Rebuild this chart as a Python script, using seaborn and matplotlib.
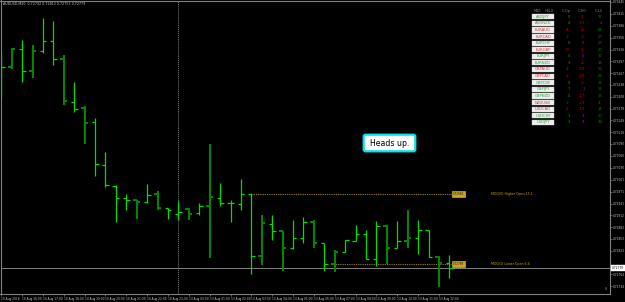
import matplotlib
matplotlib.use("Agg")
import matplotlib.pyplot as plt
import matplotlib.transforms as mtransforms
from matplotlib.patches import FancyBboxPatch, Rectangle
import numpy as np
import pandas as pd
import seaborn as sns

# ---------------- data ----------------
title_text = "AUDUSD,M30  0.72792 0.72813 0.72755 0.72779"

opens_pts = [73300, 73283, 73327, 73273, 73323, 73347, 73302, 73194, 73179, 73144,
             73038, 72986, 72955, 72949, 72944, 72964, 72929, 72914, 72927, 72917,
             72934, 72955, 72943, 72940, 72964, 72809, 72891, 72872, 72829, 72854,
             72894, 72842, 72789, 72819, 72848, 72865, 72802, 72884, 72829, 72847,
             72854, 72874, 72808, 72792]
highs_pts = [73320, 73329, 73350, 73338, 73405, 73398, 73312, 73245, 73185, 73155,
             73070, 72987, 72964, 72949, 72989, 72973, 72929, 72947, 72929, 72943,
             73089, 72993, 72950, 73002, 72967, 72913, 72913, 72872, 72900, 72908,
             72901, 72842, 72824, 72850, 72887, 72875, 72898, 72887, 72898, 72925,
             72901, 72874, 72810, 72813]
lows_pts = [73202, 73277, 73245, 73255, 73318, 73288, 73188, 73170, 73091, 73011,
            72982, 72896, 72926, 72903, 72942, 72924, 72902, 72900, 72900, 72912,
            72804, 72936, 72896, 72926, 72766, 72788, 72851, 72773, 72828, 72843,
            72830, 72773, 72771, 72819, 72848, 72802, 72786, 72790, 72829, 72830,
            72814, 72808, 72733, 72755]
closes_pts = [73283, 73327, 73272, 73323, 73347, 73303, 73197, 73178, 73143, 73039,
              72988, 72955, 72949, 72944, 72962, 72929, 72924, 72919, 72914, 72934,
              72957, 72943, 72942, 72964, 72809, 72892, 72872, 72831, 72854, 72894,
              72842, 72789, 72819, 72850, 72865, 72802, 72884, 72829, 72847, 72854,
              72874, 72808, 72792, 72779]
# B = bright bar, D = dark bar
bar_kind = "BDBDBBDBDB" + "BBBDBDBBDB" + "DBBBBDBDBB" + "DBDBBBBDBD" + "BBDB"

time_labels = ["10 Aug 2018", "10 Aug 16:00", "10 Aug 17:00", "10 Aug 18:00",
               "10 Aug 19:00", "10 Aug 20:00", "10 Aug 21:00", "10 Aug 22:00",
               "10 Aug 23:00", "13 Aug 00:00", "13 Aug 01:00", "13 Aug 02:00",
               "13 Aug 03:00", "13 Aug 04:00", "13 Aug 05:00", "13 Aug 06:00",
               "13 Aug 07:00", "13 Aug 08:00", "13 Aug 09:00", "13 Aug 10:00",
               "13 Aug 11:00", "13 Aug 12:00"]
time_label_bars = list(range(0, 44, 2))

price_ticks = [0.73445, 0.73415, 0.73386, 0.73356, 0.73326, 0.73297, 0.73267,
               0.73238, 0.73208, 0.73178, 0.73149, 0.73119, 0.73090, 0.73060,
               0.73030, 0.73001, 0.72971, 0.72941, 0.72912, 0.72882, 0.72853,
               0.72823, 0.72764, 0.72734]

separator_bar = 17
bid_price = 0.72779
higher_open = 0.72964
higher_open_start = 24
lower_open = 0.72789
lower_open_start = 31.6
level_end = 43.35
higher_text = "MOQ(0) Higher Open 15.1"
lower_text = "MOQ(1) Lower Open 6.6"

pairs = ["AUDJPY", "AUDNZD", "EURAUD", "EURCAD", "EURCHF", "EURGBP", "EURJPY",
         "EURNZD", "GBPAUD", "GBPCAD", "GBPCHF", "GBPJPY", "GBPNZD", "NZDUSD",
         "USDCAD", "USDCHF", "USDJPY"]
c_op = [0, 4, -4, -2, 0, -0.3, 0, 3, -4, -2, 0, 7, 0, -2, -5, 3, 3]
c_h0 = [-1, -23, -4, -2, 0, -6, 0, -4, -23, -27, -5, 1, -17, -23, -13, 3, 3]
c_l0 = [37, 4, 64, 27, 27, 20, 37, 18, 56, 24, 24, 54, 33, -1, 14, 20, 38]
table_headers = ["M30", "H0L0", "C-Op", "C-H0", "C-L0"]

# ---------------- style ----------------
sns.set_theme(style="dark", rc={"axes.facecolor": "black", "figure.facecolor": "black",
                                "axes.edgecolor": "#808080", "axes.grid": False})
plt.rcParams["font.family"] = ["DejaVu Sans"]

BRIGHT = "#00e000"
DARK = "#008a00"
GRAY = "#808080"
LABEL = "#c8c8c8"
GOLD = "#9a8000"

W, H = 625, 302
fig = plt.figure(figsize=(W / 100, H / 100), dpi=100, facecolor="black")
ax = fig.add_axes([0.5 / W, 8 / H, 609 / W, 293.5 / H])
ax.set_facecolor("black")

df = pd.DataFrame({"open": np.array(opens_pts) / 1e5, "high": np.array(highs_pts) / 1e5,
                   "low": np.array(lows_pts) / 1e5, "close": np.array(closes_pts) / 1e5,
                   "kind": list(bar_kind)})
df["x"] = np.arange(len(df))
tick = 0.33
for kind, color, lw in [("B", BRIGHT, 0.9), ("D", DARK, 1.4)]:
    d = df[df["kind"] == kind]
    ax.vlines(d["x"], d["low"], d["high"], colors=color, lw=lw, zorder=3)
    ax.hlines(d["open"], d["x"] - tick, d["x"], colors=color, lw=lw, zorder=3)
    ax.hlines(d["close"], d["x"], d["x"] + tick, colors=color, lw=lw, zorder=3)

ax.set_xlim(-0.077, 58.37)
ax.set_ylim(0.72715, 0.7344875)

# separator & bid line
ax.axvline(separator_bar, color=GRAY, lw=0.7, ls=(0, (1, 1)), zorder=1)
ax.axhline(bid_price, color=GRAY, lw=0.7, zorder=2)

# level lines
ax.hlines([higher_open], higher_open_start, level_end, colors=GOLD, lw=0.8,
          linestyles=[(0, (1, 1))], zorder=2)
ax.hlines([lower_open], lower_open_start, level_end, colors=GOLD, lw=0.8,
          linestyles=[(0, (1, 1))], zorder=2)
for lvl, txt in [(higher_open, higher_text), (lower_open, lower_text)]:
    ax.text(level_end, lvl, f"{lvl:.5f}", fontsize=2.0, color="#202000", ha="left", va="center",
            bbox=dict(boxstyle="square,pad=0.35", fc="#c9a227", ec="#e0c040", lw=0.4), zorder=4)
    ax.text(46.97, lvl, txt, fontsize=2.3, color="#c8a000", ha="left", va="center", zorder=4)

# axes styling
for s in ax.spines.values():
    s.set_color(GRAY)
    s.set_linewidth(0.8)
ax.yaxis.tick_right()
ax.set_yticks(price_ticks)
ax.set_yticklabels([f"{p:.5f}" for p in price_ticks])
ax.tick_params(axis="y", colors=GRAY, labelcolor=LABEL, labelsize=2.1, length=1.5, width=0.5,
               pad=1.0, right=True, left=False)
ax.set_xticks(time_label_bars)
ax.set_xticklabels(time_labels, ha="left")
ax.tick_params(axis="x", colors=GRAY, labelcolor=LABEL, labelsize=2.1, length=1.5, width=0.5,
               pad=0.8, bottom=True)

# bid label on price axis
trans = mtransforms.blended_transform_factory(ax.transAxes, ax.transData)
ax.text(1.004, bid_price, f"{bid_price:.5f}", transform=trans, fontsize=2.1, color="black",
        ha="left", va="center", clip_on=False,
        bbox=dict(boxstyle="square,pad=0.35", fc="white", ec="white", lw=0.3), zorder=5)

# ---------------- overlay in pixel coordinates ----------------
ov = fig.add_axes([0, 0, 1, 1], facecolor="none")
ov.set_xlim(0, W)
ov.set_ylim(H, 0)
ov.axis("off")
ov.set_zorder(10)

ov.text(3, 4, title_text, fontsize=2.3, color=LABEL, ha="left", va="center")

# Heads up box
ov.add_patch(FancyBboxPatch((364.5, 135.5), 50, 15, boxstyle="round,pad=0.8,rounding_size=2",
                            fc="white", ec="#00e5ee", lw=1.6))
ov.text(389.5, 143.3, "Heads up.", fontsize=5.6, color="black", ha="center", va="center")

# small marker text
ov.text(606, 289, "8", fontsize=2.6, color=GRAY, ha="center", va="center")

# table
header_x = [537.5, 549, 566, 582, 598.5]
for hx, ht in zip(header_x, table_headers):
    ov.text(hx, 11, ht, fontsize=2.5, color=GRAY, ha="center", va="center")
for i, pair in enumerate(pairs):
    y = 16.7 + 6.6 * i
    up = not (c_op[i] < 0 or (c_op[i] == 0 and str(c_op[i]).startswith("-")))
    ov.add_patch(Rectangle((532, y - 2.6), 22, 5.2, fc="#eeeeee", ec="#cfcfcf", lw=0.3))
    ov.text(543, y, pair, fontsize=2.7, color="#2f9f2f" if up else "#e03030",
            ha="center", va="center")
    ov.text(570, y, f"{c_op[i]:.0f}", fontsize=2.7, color="#00a800" if up else "#e00000",
            ha="right", va="center")
    ov.text(584.5, y, f"{c_h0[i]:.0f}", fontsize=2.7,
            color="#d000d0" if c_h0[i] >= 0 else "#e00000", ha="right", va="center")
    ov.text(602, y, f"{c_l0[i]:.0f}", fontsize=2.7,
            color="#d000d0" if c_l0[i] <= 0 else "#008000", ha="right", va="center")

fig.savefig("out.png", dpi=100, facecolor="black")
